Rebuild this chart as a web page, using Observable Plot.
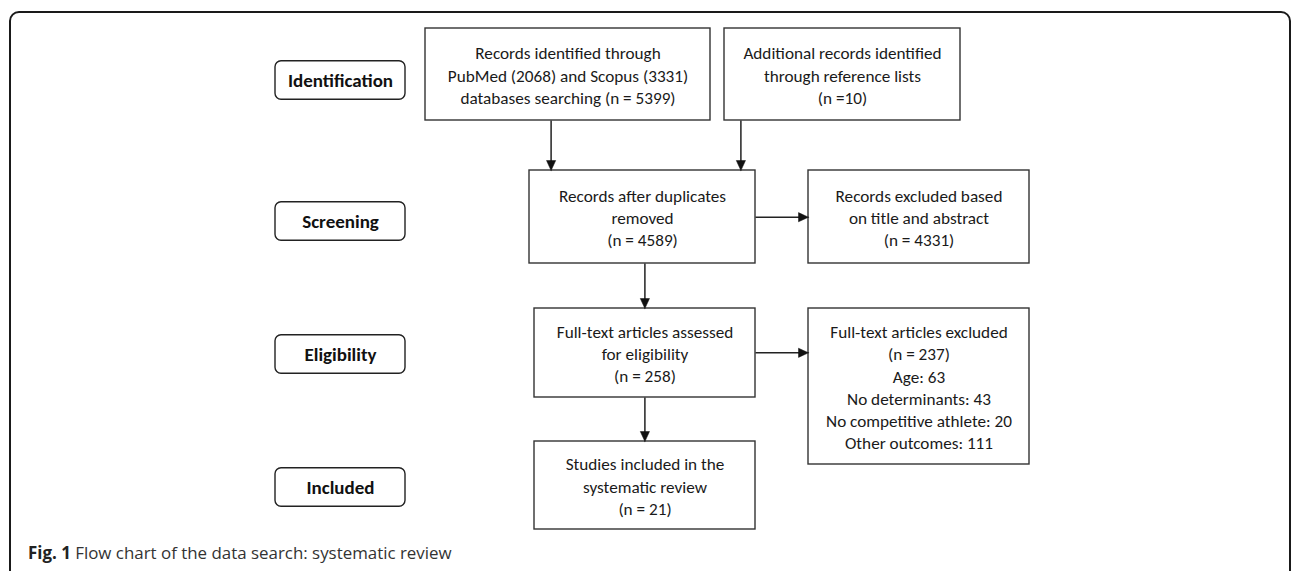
<!DOCTYPE html>
<html>
<head>
<meta charset="utf-8">
<script src="https://cdn.jsdelivr.net/npm/d3@7"></script>
<script src="https://cdn.jsdelivr.net/npm/@observablehq/plot@0.6"></script>
<style>
  html, body { margin: 0; padding: 0; background: #fff; overflow: hidden; }
  body { width: 1292px; height: 571px; position: relative; }
  #frame { position: absolute; left: 9px; top: 11px; width: 1282px; height: 700px;
           box-sizing: border-box; border: 2px solid #1a1a1a; border-radius: 10px; pointer-events: none; }
  #chart { position: absolute; left: 0; top: 0; }
  #caption { position: absolute; left: 28px; top: 541px; font-family: "Open Sans", sans-serif;
             font-size: 16.9px; color: #333; white-space: nowrap; }
  #caption b { color: #222; }
</style>
</head>
<body>
<div id="chart"></div>
<div id="caption"><b>Fig. 1</b> Flow chart of the data search: systematic review</div>
<div id="frame"></div>
<script>
// ---- data ----
const stages = ["Identification", "Screening", "Eligibility", "Included"];
const boxIds = ["db", "refs", "dedup", "excl1", "fulltext", "included", "excl2"];
const boxTexts = [
  "Records identified through\nPubMed (2068) and Scopus (3331)\ndatabases searching (n = 5399)",
  "Additional records identified\nthrough reference lists\n(n =10)",
  "Records after duplicates\nremoved\n(n = 4589)",
  "Records excluded based\non title and abstract\n(n = 4331)",
  "Full-text articles assessed\nfor eligibility\n(n = 258)",
  "Studies included in the\nsystematic review\n(n = 21)",
  "Full-text articles excluded\n(n = 237)\nAge: 63\nNo determinants: 43\nNo competitive athlete: 20\nOther outcomes: 111"
];
const edges = [["db", "dedup"], ["refs", "dedup"], ["dedup", "excl1"], ["dedup", "fulltext"], ["fulltext", "excl2"], ["fulltext", "included"]];

// ---- layout (diagram geometry, in diagram units) ----
const W = 1292, H = 540;
const stageLayout = {x1: 275, x2: 405, h: 38.5, cy: [80, 221, 354, 487]};
const boxLayout = {
  db:       {x1: 425, x2: 710, y1: 28,  y2: 120},
  refs:     {x1: 724, x2: 960, y1: 28,  y2: 120},
  dedup:    {x1: 529, x2: 755, y1: 170, y2: 263},
  excl1:    {x1: 808, x2: 1029, y1: 170, y2: 263},
  fulltext: {x1: 534, x2: 755, y1: 308, y2: 397},
  included: {x1: 534, x2: 755, y1: 441, y2: 529},
  excl2:    {x1: 808, x2: 1029, y1: 308, y2: 464}
};
const edgeLayout = [
  {x1: 550.6, y1: 120, x2: 550.6, y2: 170},
  {x1: 740.4, y1: 120, x2: 740.4, y2: 170},
  {x1: 755, y1: 216.7, x2: 808, y2: 216.7},
  {x1: 644.4, y1: 263, x2: 644.4, y2: 308},
  {x1: 755, y1: 352.3, x2: 808, y2: 352.3},
  {x1: 644.4, y1: 397, x2: 644.4, y2: 441}
];

// ---- build tables ----
const stageTable = stages.map((s, i) => ({
  label: s, x1: stageLayout.x1, x2: stageLayout.x2,
  y1: stageLayout.cy[i] - stageLayout.h / 2, y2: stageLayout.cy[i] + stageLayout.h / 2,
  cx: (stageLayout.x1 + stageLayout.x2) / 2, cy: stageLayout.cy[i]
}));
const boxTable = boxIds.map((id, i) => {
  const b = boxLayout[id];
  return {id, text: boxTexts[i], ...b, cx: (b.x1 + b.x2) / 2, cy: (b.y1 + b.y2) / 2};
});
const edgeTable = edges.map(([from, to], i) => ({from, to, ...edgeLayout[i]}));
// arrowhead triangles derived from edge end points
const headLen = 10, headHalf = 4.6;
const heads = edgeTable.flatMap((e, i) => {
  const dx = e.x2 - e.x1, dy = e.y2 - e.y1, L = Math.hypot(dx, dy);
  const ux = dx / L, uy = dy / L, px = -uy, py = ux;
  const bx = e.x2 - ux * headLen, by = e.y2 - uy * headLen;
  return [
    {k: i, x: e.x2, y: e.y2},
    {k: i, x: bx + px * headHalf, y: by + py * headHalf},
    {k: i, x: bx - px * headHalf, y: by - py * headHalf},
    {k: i, x: e.x2, y: e.y2}
  ];
});
const shafts = edgeTable.map(e => {
  const dx = e.x2 - e.x1, dy = e.y2 - e.y1, L = Math.hypot(dx, dy);
  return {...e, x2s: e.x2 - dx / L * (headLen - 1), y2s: e.y2 - dy / L * (headLen - 1)};
});

const boxFont = "Carlito, Lato, sans-serif";

const chart = Plot.plot({
  width: W, height: H,
  margin: 0,
  x: {domain: [0, W], range: [0, W], axis: null},
  y: {domain: [0, H], range: [0, H], axis: null},
  style: {background: "transparent"},
  marks: [
    Plot.rect(stageTable, {x1: "x1", x2: "x2", y1: "y1", y2: "y2", rx: 6, fill: "white", stroke: "#222", strokeWidth: 1.4}),
    Plot.text(stageTable, {x: "cx", y: "cy", text: "label", fontFamily: boxFont, fontWeight: "bold", fontSize: 19, fill: "#111"}),
    Plot.rect(boxTable, {x1: "x1", x2: "x2", y1: "y1", y2: "y2", fill: "white", stroke: "#333", strokeWidth: 1.4}),
    Plot.text(boxTable, {x: "cx", y: "cy", text: "text", fontFamily: boxFont, fontSize: 17.2, lineHeight: 22.2 / 17.2, fill: "#1a1a1a"}),
    Plot.link(shafts, {x1: "x1", y1: "y1", x2: "x2s", y2: "y2s", stroke: "#222", strokeWidth: 1.5}),
    Plot.line(heads, {x: "x", y: "y", z: "k", fill: "#111", stroke: "#111", strokeWidth: 0.5, curve: "linear-closed"})
  ]
});
document.getElementById("chart").appendChild(chart);
</script>
</body>
</html>
